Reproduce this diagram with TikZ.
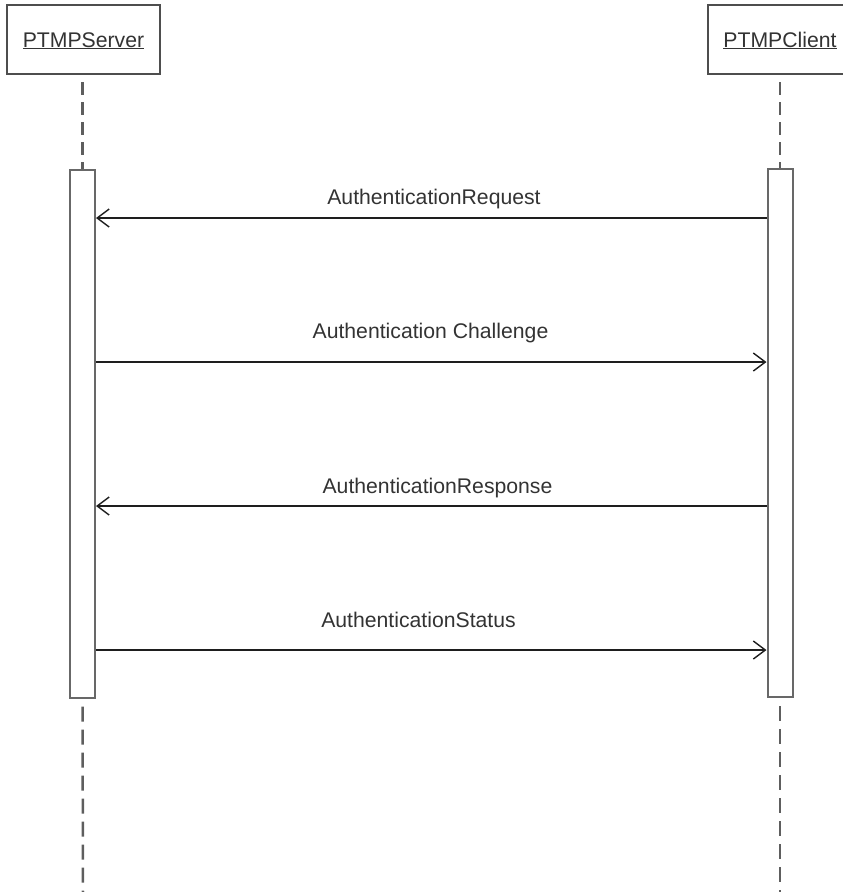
\documentclass[tikz,border=0pt]{standalone}
\usepackage{fontspec}
\setmainfont{Liberation Sans}
\usetikzlibrary{arrows.meta}
\definecolor{objline}{HTML}{4E4E4E}
\definecolor{lifeline}{HTML}{5E5E5E}
\definecolor{actline}{HTML}{686868}
\definecolor{msgline}{HTML}{1E1E1E}
\definecolor{labeltext}{HTML}{333333}
\tikzset{
  objbox/.style={draw=objline, line width=2pt, fill=white, rectangle, inner sep=0pt},
  objname/.style={text=labeltext, font=\fontsize{21.2}{25}\selectfont, inner sep=0pt, anchor=base},
  actbox/.style={draw=actline, line width=2pt, fill=white, rectangle, inner sep=0pt, minimum width=25pt},
  lifedash/.style={draw=lifeline, line width=2.5pt},
  msg/.style={draw=msgline, line width=1.5pt, -{Straight Barb[length=12pt,width=18pt,line width=1.4pt]}},
  msglabel/.style={text=labeltext, font=\fontsize{21.2}{25}\selectfont, inner sep=0pt, anchor=base}
}
\begin{document}
\begin{tikzpicture}[x=1pt,y=-1pt]
\useasboundingbox (0,0) rectangle (843,892);
\clip (0,0) rectangle (843,892);

% object boxes (the client box runs past the right edge)
\node[objbox, minimum width=153pt, minimum height=69pt] (server) at (83.5,39.5) {};
\node[objbox, minimum width=170pt, minimum height=69pt] (client) at (793,39.5) {};
\node[objname] (servername) at (83.5,47) {\underline{PTMPServer}};
\node[objname] (clientname) at (780,47) {\underline{PTMPClient}};

% activation bars
\node[actbox, minimum height=528pt] (sact) at (82.5,433.5) {};
\node[actbox, minimum height=528pt] (cact) at (780,433) {};

% lifelines
\coordinate (sbot) at (83,892);
\coordinate (cbot) at (780,892);
\draw[lifedash, dash pattern=on 13pt off 7pt, dash phase=-7pt] (server.south -| sact.north) -- (sact.north);
\draw[lifedash, dash pattern=on 13pt off 7pt, dash phase=-7pt] (client.south -| cact.north) -- (cact.north);
\draw[lifedash, dash pattern=on 15pt off 8pt, dash phase=-8pt] (sact.south) -- (sbot);
\draw[lifedash, dash pattern=on 15pt off 8pt, dash phase=-8pt] (cact.south) -- (cbot);

% message rows
\coordinate (m1) at (0,218);
\coordinate (m2) at (0,362);
\coordinate (m3) at (0,506);
\coordinate (m4) at (0,650);

\draw[msg] (cact.west |- m1) -- (sact.east |- m1);
\draw[msg] (sact.east |- m2) -- (cact.west |- m2);
\draw[msg] (cact.west |- m3) -- (sact.east |- m3);
\draw[msg] (sact.east |- m4) -- (cact.west |- m4);

\node[msglabel] (l1) at (434,204) {AuthenticationRequest};
\node[msglabel] (l2) at (430.5,338) {Authentication Challenge};
\node[msglabel] (l3) at (437.5,493) {AuthenticationResponse};
\node[msglabel] (l4) at (418.5,627) {AuthenticationStatus};
\end{tikzpicture}
\end{document}
